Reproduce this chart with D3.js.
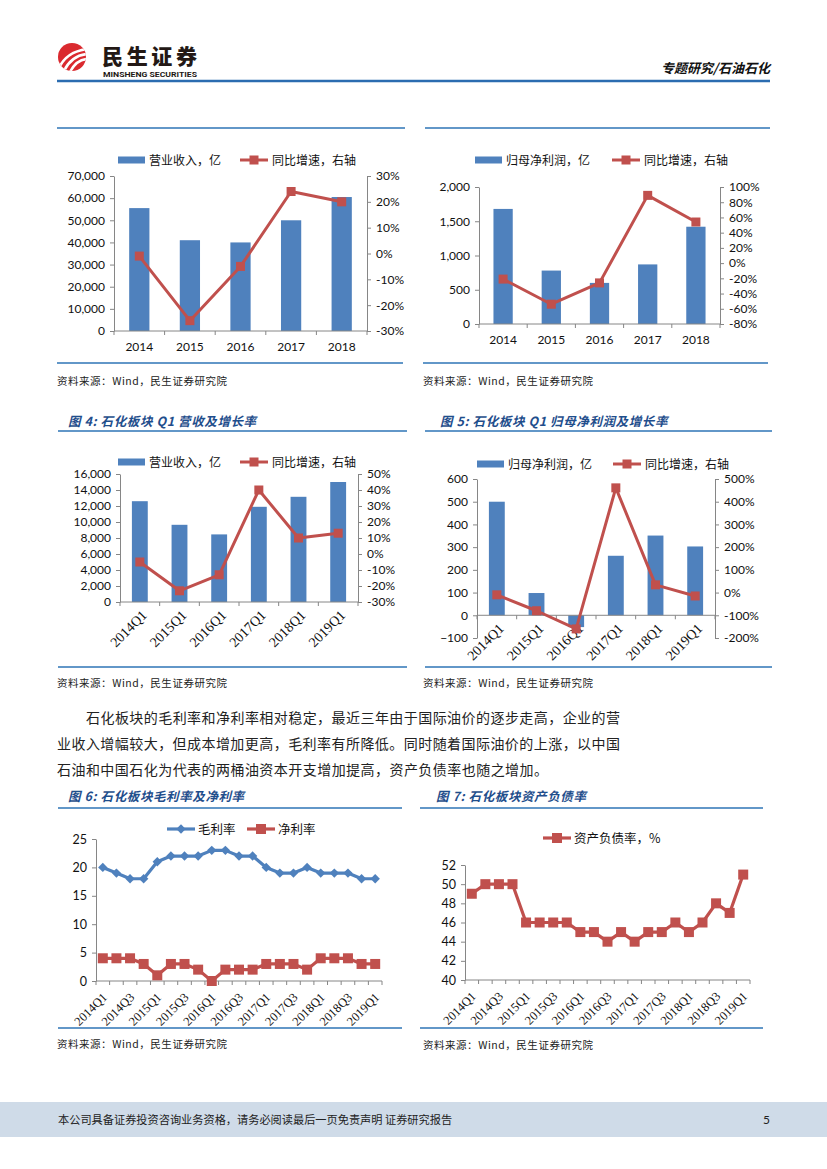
<!DOCTYPE html>
<html lang="zh">
<head>
<meta charset="UTF-8" />
<script src="https://d3js.org/d3.v7.min.js"></script>
<title>专题研究/石油石化</title>
<style>
  body { margin: 0; background: #fff; }
  svg { display: block; }
</style>
</head>
<body>
<svg width="827" height="1169"></svg>
<script>
// ---- data ----
const years = ["2014", "2015", "2016", "2017", "2018"];
const revenue = [55500, 41000, 40000, 50000, 60500];
const revenueGrowth = [-1, -26, -5, 24, 20];
const profit = [1680, 780, 600, 870, 1420];
const profitGrowth = [-21, -54, -26, 89, 54];

const q1Labels = ["2014Q1", "2015Q1", "2016Q1", "2017Q1", "2018Q1", "2019Q1"];
const q1Revenue = [12600, 9650, 8450, 11900, 13150, 15000];
const q1RevenueGrowth = [-5, -23, -13, 40, 10, 13];
const q1Profit = [500, 98, -52, 262, 351, 303];
const q1ProfitGrowth = [-10, -80, -160, 461, 34, -15];

const quarters = ["2014Q1", "2014Q2", "2014Q3", "2014Q4", "2015Q1", "2015Q2", "2015Q3", "2015Q4",
  "2016Q1", "2016Q2", "2016Q3", "2016Q4", "2017Q1", "2017Q2", "2017Q3", "2017Q4",
  "2018Q1", "2018Q2", "2018Q3", "2018Q4", "2019Q1"];
const grossMargin = [20, 19, 18, 18, 21, 22, 22, 22, 23, 23, 22, 22, 20, 19, 19, 20, 19, 19, 19, 18, 18];
const netMargin = [4, 4, 4, 3, 1, 3, 3, 2, 0, 2, 2, 2, 3, 3, 3, 2, 4, 4, 4, 3, 3];
const debtRatio = [49, 50, 50, 50, 46, 46, 46, 46, 45, 45, 44, 45, 44, 45, 45, 46, 45, 46, 48, 47, 51];

const revTicks = [0, 10000, 20000, 30000, 40000, 50000, 60000, 70000];
const pctTicks30 = [-30, -20, -10, 0, 10, 20, 30];
const profitTicks = [0, 500, 1000, 1500, 2000];
const pctTicks100 = [-80, -60, -40, -20, 0, 20, 40, 60, 80, 100];
const q1RevTicks = [0, 2000, 4000, 6000, 8000, 10000, 12000, 14000, 16000];
const pctTicks50 = [-30, -20, -10, 0, 10, 20, 30, 40, 50];
const q1ProfitTicks = [-100, 0, 100, 200, 300, 400, 500, 600];
const pctTicks500 = [-200, -100, 0, 100, 200, 300, 400, 500];
const marginTicks = [0, 5, 10, 15, 20, 25];
const debtTicks = [40, 42, 44, 46, 48, 50, 52];

const paragraph = [
  "石化板块的毛利率和净利率相对稳定，最近三年由于国际油价的逐步走高，企业的营",
  "业收入增幅较大，但成本增加更高，毛利率有所降低。同时随着国际油价的上涨，以中国",
  "石油和中国石化为代表的两桶油资本开支增加提高，资产负债率也随之增加。"
];

// ---- styles ----
const CJK = "'Noto Sans CJK SC', sans-serif";
const NUM = "Lato, 'Liberation Sans', sans-serif";
const SERIF = "'Liberation Serif', serif";
const BAR = "#4f81bd", RED = "#c0504d", AXIS = "#868686", RULE = "#2e75b6";

const svg = d3.select("svg");

function rule(x1, x2, y, w) {
  svg.append("line").attr("x1", x1).attr("x2", x2).attr("y1", y).attr("y2", y)
    .attr("stroke", RULE).attr("stroke-width", w || 1.5);
}
function source(x, y) {
  svg.append("text").attr("x", x).attr("y", y).attr("font-family", CJK)
    .attr("font-size", 10.5).attr("fill", "#222")
    .attr("textLength", 170).attr("lengthAdjust", "spacing")
    .text("资料来源：Wind，民生证券研究院");
}
function figTitle(x, y, s) {
  svg.append("text").attr("x", x).attr("y", y).attr("font-family", CJK)
    .attr("font-size", 12.5).attr("font-weight", 700).attr("font-style", "italic")
    .attr("fill", "#1f4e8c").attr("letter-spacing", 0.6).text(s);
}
function styleAxis(g, size) {
  g.select(".domain").attr("stroke", AXIS);
  g.selectAll(".tick line").attr("stroke", AXIS);
  g.selectAll(".tick text").attr("font-family", NUM).attr("font-size", size || 12).attr("fill", "#111");
}
function squareMarks(g, pts, s, color) {
  g.selectAll(null).data(pts).join("rect")
    .attr("x", d => d[0] - s / 2).attr("y", d => d[1] - s / 2)
    .attr("width", s).attr("height", s).attr("fill", color);
}

// ---- bar + line combo charts ----
function combo(c) {
  const g = svg.append("g");
  const x = d3.scaleBand().domain(c.cats).range([c.x0, c.x1]).paddingInner(0.6).paddingOuter(0.3);
  const yL = d3.scaleLinear().domain(c.left).range([c.bot, c.top]);
  const yR = d3.scaleLinear().domain(c.right).range([c.bot, c.top]);
  const cx = d => x(d) + x.bandwidth() / 2;
  const zero = yL(0);

  g.selectAll(null).data(c.bars).join("rect")
    .attr("x", (d, i) => x(c.cats[i])).attr("width", x.bandwidth())
    .attr("y", d => Math.min(yL(d), zero)).attr("height", d => Math.abs(yL(d) - zero))
    .attr("fill", BAR);

  const ax = g.append("g").attr("transform", `translate(${c.x0},0)`)
    .call(d3.axisLeft(yL).tickValues(c.leftTicks).tickSizeOuter(0).tickSizeInner(4).tickPadding(5).tickFormat(d3.format(",")));
  styleAxis(ax);
  const ar = g.append("g").attr("transform", `translate(${c.x1},0)`)
    .call(d3.axisRight(yR).tickValues(c.rightTicks).tickSizeOuter(0).tickSizeInner(4).tickPadding(5).tickFormat(d => d + "%"));
  styleAxis(ar);

  // category axis with boundary ticks
  g.append("line").attr("x1", c.x0).attr("x2", c.x1).attr("y1", zero).attr("y2", zero).attr("stroke", AXIS);
  const bounds = d3.range(c.cats.length + 1).map(i => c.x0 + i * x.step());
  g.selectAll(null).data(bounds).join("line")
    .attr("x1", d => d).attr("x2", d => d).attr("y1", zero).attr("y2", zero + 4).attr("stroke", AXIS);

  if (c.rotate) {
    g.selectAll(null).data(c.cats).join("text")
      .attr("transform", d => `translate(${cx(d) + 8},${zero + 14}) rotate(-45)`)
      .attr("text-anchor", "end").attr("font-family", SERIF).attr("font-size", 14).attr("fill", "#111")
      .text(d => d);
  } else {
    g.selectAll(null).data(c.cats).join("text")
      .attr("x", cx).attr("y", c.bot + 20).attr("text-anchor", "middle")
      .attr("font-family", NUM).attr("font-size", 12).attr("fill", "#111").text(d => d);
  }

  const pts = c.line.map((v, i) => [cx(c.cats[i]), yR(v)]);
  g.append("path").attr("d", d3.line()(pts)).attr("fill", "none")
    .attr("stroke", RED).attr("stroke-width", 3).attr("stroke-linejoin", "round");
  squareMarks(g, pts, 9, RED);

  // legend
  const ly = c.legendY;
  g.append("rect").attr("x", c.legBar).attr("y", ly - 3.5).attr("width", 27).attr("height", 7).attr("fill", BAR);
  g.append("text").attr("x", c.legBar + 31).attr("y", ly + 4.5).attr("font-family", CJK)
    .attr("font-size", 12).attr("fill", "#111").text(c.barName);
  g.append("line").attr("x1", c.legLine).attr("x2", c.legLine + 28).attr("y1", ly).attr("y2", ly)
    .attr("stroke", RED).attr("stroke-width", 3);
  squareMarks(g, [[c.legLine + 14, ly]], 9, RED);
  g.append("text").attr("x", c.legLine + 32).attr("y", ly + 4.5).attr("font-family", CJK)
    .attr("font-size", 12).attr("fill", "#111").text("同比增速，右轴");
}

// ---- quarterly line charts ----
function lineChart(c) {
  const g = svg.append("g");
  const x = d3.scaleBand().domain(quarters).range([c.x0, c.x1]);
  const y = d3.scaleLinear().domain(c.domain).range([c.bot, c.top]);
  const cx = d => x(d) + x.bandwidth() / 2;

  const ay = g.append("g").attr("transform", `translate(${c.x0},0)`)
    .call(d3.axisLeft(y).tickValues(c.ticks).tickSizeOuter(0).tickSizeInner(4).tickPadding(5));
  styleAxis(ay, 12.5);
  g.append("line").attr("x1", c.x0).attr("x2", c.x1).attr("y1", c.bot).attr("y2", c.bot).attr("stroke", AXIS);
  const bounds = d3.range(quarters.length + 1).map(i => c.x0 + i * x.step());
  g.selectAll(null).data(bounds).join("line")
    .attr("x1", d => d).attr("x2", d => d).attr("y1", c.bot).attr("y2", c.bot + 4).attr("stroke", AXIS);
  g.selectAll(null).data(quarters.filter((d, i) => i % 2 === 0)).join("text")
    .attr("transform", d => `translate(${cx(d) + 5},${c.bot + 17}) rotate(-45)`)
    .attr("text-anchor", "end").attr("font-family", SERIF).attr("font-size", 12.5).attr("fill", "#111")
    .text(d => d);

  c.series.forEach(s => {
    const pts = s.values.map((v, i) => [cx(quarters[i]), y(v)]);
    g.append("path").attr("d", d3.line()(pts)).attr("fill", "none")
      .attr("stroke", s.color).attr("stroke-width", 3.2).attr("stroke-linejoin", "round");
    if (s.mark === "diamond") {
      g.selectAll(null).data(pts).join("path")
        .attr("transform", d => `translate(${d[0]},${d[1]}) rotate(45)`)
        .attr("d", d3.symbol(d3.symbolSquare, 44)()).attr("fill", s.color);
    } else {
      squareMarks(g, pts, 10, s.color);
    }
    // legend entry
    const ly = c.legendY;
    g.append("line").attr("x1", s.legX).attr("x2", s.legX + 28).attr("y1", ly).attr("y2", ly)
      .attr("stroke", s.color).attr("stroke-width", 3.2);
    if (s.mark === "diamond") {
      g.append("path").attr("transform", `translate(${s.legX + 14},${ly}) rotate(45)`)
        .attr("d", d3.symbol(d3.symbolSquare, 44)()).attr("fill", s.color);
    } else {
      squareMarks(g, [[s.legX + 14, ly]], 10, s.color);
    }
    g.append("text").attr("x", s.legX + 31).attr("y", ly + 4.5).attr("font-family", CJK)
      .attr("font-size", 12.5).attr("fill", "#111").text(s.name);
  });
}

// ---- page header ----
const logo = svg.append("g");
logo.append("clipPath").attr("id", "lc").append("circle").attr("cx", 72).attr("cy", 57).attr("r", 14);
logo.append("circle").attr("cx", 72).attr("cy", 57).attr("r", 14).attr("fill", "#da2a2f");
["M58,70 Q66,51 88,49", "M63,73 Q71,55 88,54", "M69,74 Q76,59 88,59"].forEach(d =>
  logo.append("path").attr("d", d).attr("clip-path", "url(#lc)").attr("fill", "none")
    .attr("stroke", "#fff").attr("stroke-width", 2.6));
logo.append("text").attr("x", 102).attr("y", 64).attr("font-family", CJK).attr("font-weight", 900)
  .attr("font-size", 21).attr("fill", "#231815").attr("textLength", 95).text("民生证券");
logo.append("text").attr("x", 103).attr("y", 77).attr("font-family", "Roboto, sans-serif").attr("font-weight", 700)
  .attr("font-size", 8).attr("fill", "#231815").attr("textLength", 94).attr("lengthAdjust", "spacingAndGlyphs")
  .text("MINSHENG SECURITIES");
svg.append("text").attr("x", 770).attr("y", 73).attr("text-anchor", "end").attr("font-family", CJK)
  .attr("font-weight", 700).attr("font-style", "italic").attr("font-size", 13).attr("fill", "#111")
  .text("专题研究/石油石化");
svg.append("line").attr("x1", 57).attr("x2", 770).attr("y1", 81).attr("y2", 81)
  .attr("stroke", "#2b6cb0").attr("stroke-width", 2.5);

// ---- top row ----
rule(57, 405, 128); rule(425, 770, 128);
combo({ cats: years, bars: revenue, line: revenueGrowth, x0: 114, x1: 367, top: 176, bot: 331,
  left: [0, 70000], leftTicks: revTicks, right: [-30, 30], rightTicks: pctTicks30,
  legendY: 160, legBar: 118, legLine: 240, barName: "营业收入，亿" });
combo({ cats: years, bars: profit, line: profitGrowth, x0: 479, x1: 720, top: 187, bot: 324,
  left: [0, 2000], leftTicks: profitTicks, right: [-80, 100], rightTicks: pctTicks100,
  legendY: 160, legBar: 475, legLine: 612, barName: "归母净利润，亿" });
rule(57, 403, 363); rule(423, 768, 363);
source(57, 385); source(423, 385);

// ---- figure 4 / 5 ----
figTitle(68, 426, "图 4:  石化板块 Q1 营收及增长率");
figTitle(440, 426, "图 5:  石化板块 Q1 归母净利润及增长率");
rule(58, 407, 431); rule(425, 772, 431);
combo({ cats: q1Labels, bars: q1Revenue, line: q1RevenueGrowth, x0: 120, x1: 358, top: 474, bot: 602,
  left: [0, 16000], leftTicks: q1RevTicks, right: [-30, 50], rightTicks: pctTicks50, rotate: true,
  legendY: 462, legBar: 118, legLine: 240, barName: "营业收入，亿" });
combo({ cats: q1Labels, bars: q1Profit, line: q1ProfitGrowth, x0: 477, x1: 715, top: 479, bot: 638,
  left: [-100, 600], leftTicks: q1ProfitTicks, right: [-200, 500], rightTicks: pctTicks500, rotate: true,
  legendY: 464, legBar: 477, legLine: 613, barName: "归母净利润，亿" });
rule(58, 407, 667); rule(425, 772, 667);
source(57, 687); source(423, 687);

// ---- paragraph ----
const para = [[86, 723, 534], [57, 749, 563], [57, 775, 491]];
para.forEach((p, i) => svg.append("text").attr("x", p[0]).attr("y", p[1]).attr("font-family", CJK)
  .attr("font-size", 14).attr("fill", "#222").attr("textLength", p[2]).attr("lengthAdjust", "spacing")
  .text(paragraph[i]));

// ---- figure 6 / 7 ----
figTitle(68, 801, "图 6:  石化板块毛利率及净利率");
figTitle(436, 801, "图 7:  石化板块资产负债率");
rule(58, 402, 808); rule(420, 763, 808);
lineChart({ x0: 96, x1: 382, top: 839, bot: 981, domain: [0, 25], ticks: marginTicks, legendY: 829,
  series: [
    { name: "毛利率", values: grossMargin, color: BAR, mark: "diamond", legX: 167 },
    { name: "净利率", values: netMargin, color: RED, mark: "square", legX: 247 }
  ] });
lineChart({ x0: 465, x1: 750, top: 865, bot: 980, domain: [40, 52], ticks: debtTicks, legendY: 838,
  series: [{ name: "资产负债率，%", values: debtRatio, color: RED, mark: "square", legX: 543 }] });
rule(58, 402, 1028); rule(420, 763, 1028);
source(57, 1048); source(423, 1049);

// ---- footer ----
svg.append("rect").attr("x", 0).attr("y", 1102).attr("width", 827).attr("height", 35).attr("fill", "#cfdbe8");
svg.append("text").attr("x", 58).attr("y", 1124).attr("font-family", CJK).attr("font-size", 11.2)
  .attr("fill", "#222").text("本公司具备证券投资咨询业务资格，请务必阅读最后一页免责声明 证券研究报告");
svg.append("text").attr("x", 770).attr("y", 1124).attr("text-anchor", "end").attr("font-family", NUM)
  .attr("font-size", 12).attr("fill", "#222").text("5");
</script>
</body>
</html>
